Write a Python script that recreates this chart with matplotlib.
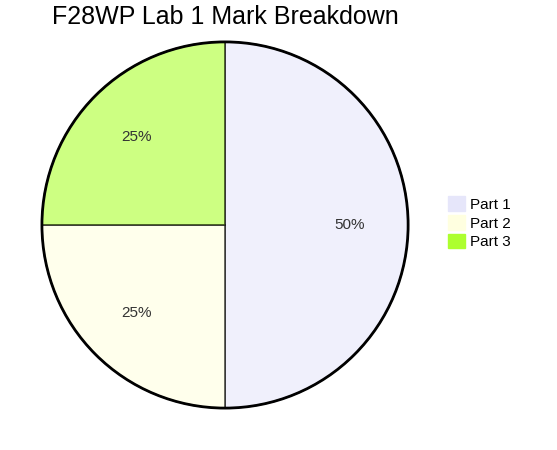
import matplotlib
matplotlib.use('Agg')
import matplotlib.pyplot as plt

plt.rcParams['font.family'] = ['Liberation Sans', 'DejaVu Sans']

# data
parts = ['Part 1', 'Part 2', 'Part 3']
marks = [50, 25, 25]
colors = ['#E6E6FA', '#FFFFE0', '#ADFF2F']

fig = plt.figure(figsize=(5.57, 4.5), dpi=100)
ax = fig.add_axes([0.072, 0.089, 0.664, 0.822])

wedges, texts, autotexts = ax.pie(
    marks, colors=colors, startangle=90, counterclock=False,
    autopct='%1.0f%%', pctdistance=0.68,
    wedgeprops=dict(edgecolor='black', linewidth=1.2, alpha=0.6),
    textprops=dict(fontsize=11, color='#333333'))
for w in wedges:
    w.set_edgecolor('black')
ax.add_patch(plt.Circle((0, 0), 1, fill=False, edgecolor='black', linewidth=2))
ax.set_xlim(-1.01, 1.01)
ax.set_ylim(-1.01, 1.01)
ax.set_aspect('equal')

fig.text(0.404, 0.962, 'F28WP Lab 1 Mark Breakdown', ha='center', va='center', fontsize=18)

handles = [plt.Rectangle((0, 0), 1, 1, color=c) for c in colors]
fig.legend(handles, parts, loc='center left', bbox_to_anchor=(0.78, 0.505),
           frameon=False, fontsize=11, handlelength=1.1, handleheight=1.1,
           handletextpad=0.3, labelspacing=0.2)

fig.savefig('out.png', dpi=100)
